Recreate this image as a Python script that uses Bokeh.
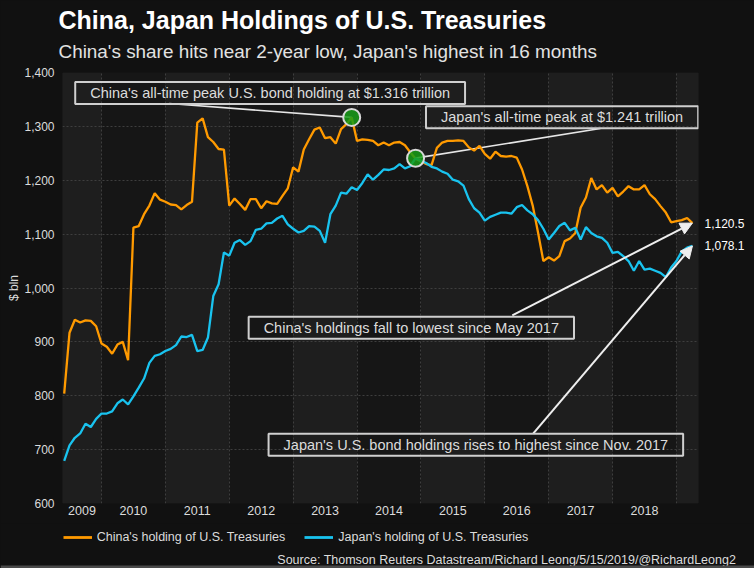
import math
from bokeh.plotting import figure
from bokeh.layouts import column
from bokeh.models import (FixedTicker, NumeralTickFormatter, CustomJSTickFormatter, Label, Arrow,
                          NormalHead, BoxAnnotation, Legend, LegendItem, Range1d, Title, LinearAxis)
from bokeh.embed import file_html
from bokeh.resources import INLINE

# ---------------- data (monthly, May 2009 .. Mar 2019, $ bln) ----------------
start_year = 2009
start_month = 5
china = [804, 917, 941, 936, 940, 939, 929, 897, 891, 878, 895, 900, 866, 1112, 1115, 1137,
         1153, 1176, 1164, 1160, 1155, 1154, 1146, 1154, 1160, 1307, 1314.9, 1280, 1271, 1258,
         1257, 1153, 1166, 1156, 1145, 1165, 1165, 1148, 1161, 1157, 1156, 1171, 1185, 1224,
         1216, 1257, 1276, 1294, 1298, 1278, 1280, 1268, 1295, 1304, 1316.7, 1273, 1276, 1275,
         1273, 1265, 1270, 1265, 1270, 1271, 1265, 1252, 1240, 1235, 1230, 1228, 1260, 1270,
         1273, 1273, 1274, 1273, 1261, 1255, 1264, 1249, 1240, 1253, 1245, 1244, 1245, 1242,
         1220, 1189, 1153, 1103, 1050, 1057, 1051, 1059, 1087, 1092, 1102, 1149, 1168, 1204,
         1183, 1191, 1177, 1186, 1170, 1179, 1189, 1183, 1183, 1191, 1174, 1165, 1152, 1140,
         1122, 1124, 1126, 1130, 1120.5]
japan = [679, 708, 722, 730, 748, 742, 757, 767, 767, 771, 786, 793, 784, 799, 815, 832,
         861, 874, 877, 883, 887, 894, 910, 909, 913, 883, 885, 908, 985, 1007, 1066, 1060,
         1084, 1089, 1080, 1087, 1108, 1110, 1120, 1121, 1129, 1134, 1118, 1110, 1103, 1106,
         1115, 1114, 1106, 1084, 1137, 1153, 1177, 1175, 1187, 1182, 1195, 1211, 1201, 1210,
         1220, 1219, 1222, 1230, 1222, 1226, 1241, 1236, 1232, 1225, 1222, 1216, 1212, 1201,
         1198, 1190, 1165, 1148, 1140, 1125, 1132, 1136, 1140, 1140, 1138, 1150, 1154, 1144,
         1137, 1126, 1110, 1090, 1102, 1115, 1121, 1107, 1112, 1090, 1113, 1102, 1096, 1093,
         1084, 1065, 1067, 1059, 1050, 1032, 1050, 1034, 1036, 1032, 1028, 1020, 1038, 1050,
         1068, 1075, 1078.1]
year_labels = [2009, 2010, 2011, 2012, 2013, 2014, 2015, 2016, 2017, 2018]
y_ticks = [600, 700, 800, 900, 1000, 1100, 1200, 1300, 1400]

title_text = "China, Japan Holdings of U.S. Treasuries"
subtitle_text = "China's share hits near 2-year low, Japan's highest in 16 months"
source_text = "Source: Thomson Reuters Datastream/Richard Leong/5/15/2019/@RichardLeong2"
china_name = "China's holding of U.S. Treasuries"
japan_name = "Japan's holding of U.S. Treasuries"
note_china_peak = "China's all-time peak U.S. bond holding at $1.316 trillion"
note_japan_peak = "Japan's all-time peak at $1.241 trillion"
note_china_low = "China's holdings fall to lowest since May 2017"
note_japan_high = "Japan's U.S. bond holdings rises to highest since Nov. 2017"

# month-end positions in fractional years
x = [start_year + (start_month + k) / 12 for k in range(len(china))]

# ---------------- style ----------------
FONT = "Liberation Sans"
OUTER = "#111111"
LIGHT = "#1e1e1e"
DARK = "#161616"
GRID = "#3e3e3e"
ORANGE = "#ff9a00"
BLUE = "#19c3ef"
TXT = "#dcdcdc"
BOXLINE = "#cfcfcf"

X0, X1 = 2009.39, 2019.345
W = 754
H_MAIN, H_FOOT = 523, 45
ML, MR, MT, MB = 62, 56, 72, 20

p = figure(width=W, height=H_MAIN, output_backend="svg", toolbar_location=None, title=None,
           x_range=Range1d(X0, X1), y_range=Range1d(600, 1400),
           min_border_left=ML, min_border_right=MR, min_border_top=MT, min_border_bottom=MB,
           background_fill_color=DARK, border_fill_color=OUTER)
p.outline_line_color = None

# titles (nearest to the frame first)
p.add_layout(Title(text=subtitle_text, align="left", vertical_align="top", offset=-4, standoff=18,
                   text_font=FONT, text_font_size="18.9px", text_font_style="normal",
                   text_color="#e2e2e2"), "above")
p.add_layout(Title(text=title_text, align="left", vertical_align="bottom", offset=-4, standoff=-4.5,
                   text_font=FONT, text_font_size="25px", text_font_style="bold",
                   text_color="#ffffff"), "above")

# alternating year bands
for yr in range(2009, 2020, 2):
    p.add_layout(BoxAnnotation(left=yr, right=yr + 1, fill_color=LIGHT, fill_alpha=1.0,
                               line_alpha=0, level="image"))

# grids
p.ygrid.ticker = FixedTicker(ticks=y_ticks)
p.xgrid.ticker = FixedTicker(ticks=list(range(2010, 2020)))
for g in (p.xgrid, p.ygrid):
    g.grid_line_color = GRID
    g.grid_line_dash = "2 2"
    g.grid_line_width = 1

# axes
xt = [(X0 + 2010) / 2] + [yr + 0.5 for yr in year_labels[1:]]
p.xaxis.ticker = FixedTicker(ticks=xt)
p.xaxis.formatter = CustomJSTickFormatter(code="return String(Math.floor(tick));")
p.yaxis.ticker = FixedTicker(ticks=y_ticks)
p.yaxis.formatter = NumeralTickFormatter(format="0,0")
p.yaxis.axis_label = "$ bln"
p.yaxis.axis_label_standoff = 0
p.yaxis.axis_label_text_font = FONT
p.yaxis.axis_label_text_font_size = "12px"
p.yaxis.axis_label_text_font_style = "normal"
p.yaxis.axis_label_text_color = TXT

rax = LinearAxis(ticker=FixedTicker(ticks=[china[-1], japan[-1]]),
                 formatter=NumeralTickFormatter(format="0,0.0"))
p.add_layout(rax, "right")

for ax in (p.xaxis[0], p.yaxis[0], rax):
    ax.axis_line_color = None
    ax.major_tick_line_color = None
    ax.minor_tick_line_color = None
    ax.major_tick_out = 0
    ax.major_tick_in = 0
    ax.major_label_text_color = TXT
    ax.major_label_text_font = FONT
p.xaxis.major_label_text_font_size = "12.5px"
p.xaxis.major_label_standoff = 2
p.yaxis.major_label_text_font_size = "12px"
p.yaxis.major_label_standoff = 8
rax.major_label_text_font_size = "12px"
rax.major_label_text_color = "#ffffff"
rax.major_label_standoff = 6

# leader lines (drawn below the peak dots)
ic = max(range(len(china)), key=lambda i: china[i])
ij = max(range(len(japan)), key=lambda i: japan[i])
p.segment(x0=[2011.06], y0=[1342.5], x1=[x[ic]], y1=[china[ic]], line_color="#e6e6e6", line_width=1.6)
p.segment(x0=[2017.81], y0=[1296], x1=[x[ij]], y1=[japan[ij]], line_color="#e6e6e6", line_width=1.6)

rc = p.line(x, china, line_color=ORANGE, line_width=2.3)
rj = p.line(x, japan, line_color=BLUE, line_width=2.3)

p.scatter([x[ic], x[ij]], [china[ic], japan[ij]], size=17, fill_color="#179c17", fill_alpha=0.85,
          line_color="#d8d8d8", line_width=2)

# arrows to latest values
head_kw = dict(size=12, fill_color="#eeeeee", line_color="#eeeeee")
p.add_layout(Arrow(end=NormalHead(**head_kw), x_start=2016.43, y_start=949, x_end=x[-1], y_end=china[-1],
                   line_color="#eeeeee", line_width=2))
p.add_layout(Arrow(end=NormalHead(**head_kw), x_start=2016.76, y_start=730, x_end=x[-1], y_end=japan[-1],
                   line_color="#eeeeee", line_width=2))

# annotation boxes
def note(text, cx, cy):
    p.add_layout(Label(x=cx, y=cy, text=text, text_align="center", text_baseline="middle",
                       text_font=FONT, text_font_size="14.5px", text_color=TXT,
                       border_line_color=BOXLINE, border_line_width=2,
                       background_fill_color=None,
                       padding=dict(left=15, right=15, top=3, bottom=3)))

note(note_china_peak, 2012.64, 1362)
note(note_japan_peak, 2017.21, 1317)
note(note_china_low, 2014.85, 926)
note(note_japan_high, 2015.86, 709)

# ---------------- footer: legend and source ----------------
f = figure(width=W, height=H_FOOT, output_backend="svg", toolbar_location=None, title=None,
           x_range=Range1d(0, 1), y_range=Range1d(0, 1), x_axis_type=None, y_axis_type=None,
           min_border=0, background_fill_color=OUTER, border_fill_color=OUTER)
f.outline_line_color = None
f.xgrid.visible = False
f.ygrid.visible = False
for fig in (p, f):
    if hasattr(fig, "frame_align"):
        fig.frame_align = False
nan = float("nan")
lc = f.line(x=[nan], y=[nan], line_color=ORANGE, line_width=2.8)
lj = f.line(x=[nan], y=[nan], line_color=BLUE, line_width=2.8)
legend = Legend(items=[LegendItem(label=china_name, renderers=[lc]),
                       LegendItem(label=japan_name, renderers=[lj])],
                orientation="horizontal", location=(62.7, 24), glyph_width=29, glyph_height=14,
                label_height=14, label_standoff=5, spacing=19, padding=0, margin=0,
                border_line_alpha=0, background_fill_alpha=0,
                label_text_font=FONT, label_text_font_size="12.5px", label_text_color=TXT)
f.add_layout(legend)
f.add_layout(Label(x=735.6, y=9, x_units="screen", y_units="screen", text=source_text,
                   text_align="right", text_baseline="alphabetic",
                   text_font=FONT, text_font_size="12.5px", text_color=TXT))
f.add_layout(BoxAnnotation(bottom=0, top=3, bottom_units="screen", top_units="screen",
                           fill_color="#4a4a4a", fill_alpha=1.0, line_alpha=0))

layout = column(p, f, spacing=0, styles={"background-color": OUTER})
open("out.html", "w").write(file_html(layout, INLINE))
